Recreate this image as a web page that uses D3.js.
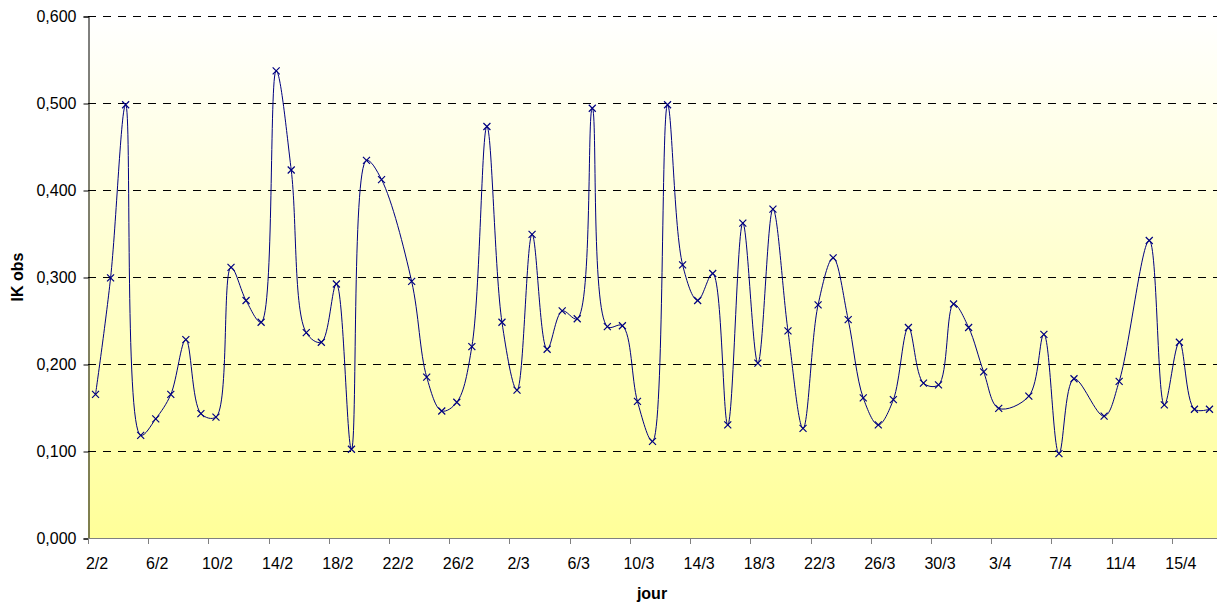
<!DOCTYPE html>
<html>
<head>
<meta charset="utf-8">
<script src="https://cdn.jsdelivr.net/npm/d3@7"></script>
<style>
  html, body { margin: 0; padding: 0; background: #fff; }
  svg { display: block; }
  text { font-family: "Liberation Sans", Arial, sans-serif; }
</style>
</head>
<body>
<svg id="chart" width="1218" height="604"></svg>
<script>
const categories = [
  "2/2","3/2","4/2","5/2","6/2","7/2","8/2","9/2","10/2","11/2","12/2","13/2","14/2","15/2","16/2","17/2","18/2","19/2","20/2","21/2","22/2","23/2","24/2","25/2","26/2","27/2","28/2",
  "1/3","2/3","3/3","4/3","5/3","6/3","7/3","8/3","9/3","10/3","11/3","12/3","13/3","14/3","15/3","16/3","17/3","18/3","19/3","20/3","21/3","22/3","23/3","24/3","25/3","26/3","27/3","28/3","29/3","30/3","31/3",
  "1/4","2/4","3/4","4/4","5/4","6/4","7/4","8/4","9/4","10/4","11/4","12/4","13/4","14/4","15/4","16/4","17/4"
];
const ikObs = [
  0.165, 0.299, 0.498, 0.118, 0.137, 0.165, 0.228, 0.143, 0.139, 0.311,
  0.273, 0.248, 0.537, 0.423, 0.236, 0.225, 0.292, 0.102, 0.434, 0.412,
  null,  0.295, 0.185, 0.146, 0.156, 0.220, 0.473, 0.248, 0.170, 0.349,
  0.217, 0.261, 0.252, 0.494, 0.243, 0.244, 0.157, 0.111, 0.498, 0.314,
  0.273, 0.304, 0.130, 0.362, 0.201, 0.378, 0.238, 0.126, 0.268, 0.322,
  0.251, 0.161, 0.130, 0.159, 0.242, 0.178, 0.176, 0.269, 0.242, 0.191,
  0.149, null,  0.163, 0.234, 0.097, 0.183, null,  0.140, 0.180, null,
  0.342, 0.153, 0.225, 0.148, 0.148
];
const yTicks = [0, 0.1, 0.2, 0.3, 0.4, 0.5, 0.6];
const yTickLabels = ["0,000","0,100","0,200","0,300","0,400","0,500","0,600"];
const xAxisTitle = "jour";
const yAxisTitle = "IK obs";

const svg = d3.select("#chart");
const pLeft = 88, pRight = 1217, pTop = 16, pBottom = 538;

const x = d3.scaleBand().domain(categories).range([pLeft, pRight]).paddingInner(0).paddingOuter(0);
const y = d3.scaleLinear().domain([0, 0.6]).range([pBottom, pTop]);

// background gradient
const defs = svg.append("defs");
const grad = defs.append("linearGradient").attr("id", "bg").attr("x1", 0).attr("y1", 0).attr("x2", 0).attr("y2", 1);
grad.append("stop").attr("offset", "0%").attr("stop-color", "#FFFFFF");
grad.append("stop").attr("offset", "100%").attr("stop-color", "#FFFF99");
svg.append("rect").attr("x", pLeft).attr("y", pTop).attr("width", pRight - pLeft).attr("height", pBottom - pTop).attr("fill", "url(#bg)");

// gridlines
svg.append("g").selectAll("line").data(yTicks.filter(d => d > 0)).join("line")
  .attr("x1", pLeft).attr("x2", pRight)
  .attr("y1", d => Math.round(y(d)) + 0.5).attr("y2", d => Math.round(y(d)) + 0.5)
  .attr("stroke", "#000").attr("stroke-width", 1).attr("stroke-dasharray", "8,7");

// y axis
const yAxis = d3.axisLeft(y).tickValues(yTicks).tickSize(5).tickPadding(7)
  .tickFormat((d, i) => yTickLabels[i]);
const gy = svg.append("g").attr("transform", `translate(${pLeft + 0.5},0.5)`).call(yAxis);
gy.select(".domain").attr("stroke", "#000");
gy.selectAll(".tick line").attr("stroke", "#000");
gy.selectAll(".tick text").attr("font-size", 16).attr("fill", "#000")
  .attr("font-family", "'Liberation Sans', Arial, sans-serif");

// x axis: tick marks every 4 categories at band edges, labels at band centers
const gx = svg.append("g");
gx.append("line").attr("x1", pLeft).attr("x2", pRight).attr("y1", pBottom + 0.5).attr("y2", pBottom + 0.5)
  .attr("stroke", "#808080").attr("stroke-width", 1);
const tickCats = categories.filter((c, i) => i % 4 === 0);
gx.selectAll("line.tk").data(tickCats).join("line").attr("class", "tk")
  .attr("x1", d => Math.round(x(d)) + 0.5).attr("x2", d => Math.round(x(d)) + 0.5)
  .attr("y1", pBottom).attr("y2", pBottom + 6)
  .attr("stroke", "#808080").attr("stroke-width", 1);
gx.selectAll("text").data(tickCats).join("text")
  .attr("x", d => x(d) + x.bandwidth() / 2 + 1.5)
  .attr("y", 569)
  .attr("text-anchor", "middle")
  .attr("font-size", 16).attr("fill", "#000")
  .text(d => d);

// axis titles
svg.append("text").attr("x", 652).attr("y", 599).attr("text-anchor", "middle")
  .attr("font-size", 16).attr("font-weight", "bold").text(xAxisTitle);
svg.append("text").attr("transform", "translate(23,277) rotate(-90)").attr("text-anchor", "middle")
  .attr("font-size", 16).attr("font-weight", "bold").text(yAxisTitle);

// data
const pts = categories.map((c, i) => ({ c, v: ikObs[i] })).filter(d => d.v !== null);
const cx = d => x(d.c) + x.bandwidth() / 2;

const line = d3.line().x(cx).y(d => y(d.v)).curve(d3.curveCatmullRom.alpha(0.5));
svg.append("path").datum(pts).attr("d", line)
  .attr("fill", "none").attr("stroke", "#000080").attr("stroke-width", 1);

const s = 3.5;
svg.append("g").selectAll("path").data(pts).join("path")
  .attr("d", d => {
    const px = cx(d), py = y(d.v);
    return `M${px - s},${py - s}L${px + s},${py + s}M${px - s},${py + s}L${px + s},${py - s}`;
  })
  .attr("stroke", "#000080").attr("stroke-width", 1.2).attr("fill", "none");
</script>
</body>
</html>
